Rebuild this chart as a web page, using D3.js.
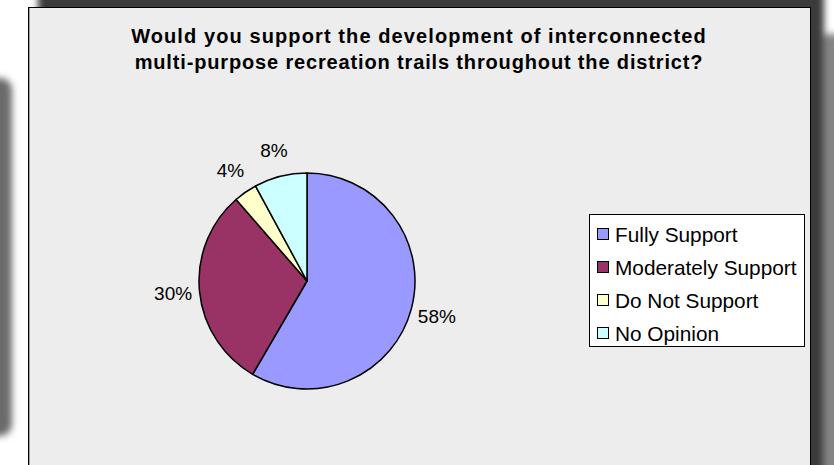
<!DOCTYPE html>
<html>
<head>
<meta charset="utf-8">
<script src="https://cdn.jsdelivr.net/npm/d3@7"></script>
<style>
  html, body { margin: 0; padding: 0; background: #ffffff; }
  svg { display: block; }
</style>
</head>
<body>
<svg id="chart" width="834" height="465"></svg>
<script>
// ---- data ----
const titleLines = [
  "Would you support the development of interconnected",
  "multi-purpose recreation trails throughout the district?"
];
const categories = ["Fully Support", "Moderately Support", "Do Not Support", "No Opinion"];
const values = [58.4, 30.2, 3.5, 7.9];
const valueLabels = ["58%", "30%", "4%", "8%"];
const colors = ["#9999FF", "#993366", "#FFFFCC", "#CCFFFF"];

// ---- layout ----
const W = 834, H = 465;
const svg = d3.select("#chart");
const defs = svg.append("defs");
defs.append("filter").attr("id", "blur").attr("x", "-50%").attr("y", "-50%").attr("width", "200%").attr("height", "200%")
  .append("feGaussianBlur").attr("stdDeviation", 3.5);

// page shadows
const sh = svg.append("g").attr("filter", "url(#blur)");
sh.append("rect").attr("x", 816).attr("y", 34).attr("width", 40).attr("height", 480).attr("fill", "#858585");
sh.append("rect").attr("x", 38).attr("y", -30).attr("width", 786).attr("height", 540).attr("rx", 14).attr("fill", "#3a3a3a");
sh.append("rect").attr("x", -60).attr("y", 78).attr("width", 72).attr("height", 358).attr("rx", 12).attr("fill", "#6a6a6a");

// chart frame
const frame = {x: 28, y: 7, w: 782, h: 480};
svg.append("rect").attr("x", frame.x + 0.5).attr("y", frame.y + 0.5)
  .attr("width", frame.w).attr("height", frame.h)
  .attr("fill", "#ededed").attr("stroke", "#000").attr("stroke-width", 1);
svg.append("line").attr("x1", frame.x + 1.5).attr("x2", frame.x + 1.5).attr("y1", frame.y + 1).attr("y2", H)
  .attr("stroke", "#a0a0a0").attr("stroke-width", 1);

// title
const cx = frame.x + frame.w / 2;
svg.append("g").selectAll("text").data(titleLines).join("text")
  .attr("x", cx)
  .attr("y", (d, i) => 43 + i * 26)
  .attr("text-anchor", "middle")
  .attr("font-family", "Liberation Sans, Arial, sans-serif")
  .attr("font-weight", "bold")
  .attr("font-size", 20)
  .attr("letter-spacing", (d, i) => i === 0 ? 1.1 : 0.85)
  .attr("fill", "#000")
  .text(d => d);

// pie
const pcx = 307, pcy = 281, r = 108;
const pie = d3.pie().sort(null).value(d => d.v);
const data = categories.map((c, i) => ({c, v: values[i], label: valueLabels[i], color: colors[i]}));
const arcs = pie(data);
const arc = d3.arc().innerRadius(0).outerRadius(r);
const g = svg.append("g").attr("transform", `translate(${pcx},${pcy})`);
g.selectAll("path").data(arcs).join("path")
  .attr("d", arc)
  .attr("fill", d => d.data.color)
  .attr("stroke", "#000")
  .attr("stroke-width", 1.5)
  .attr("stroke-linejoin", "round");

// labels: centred on the mid-angle ray outside the pie
const fs = 19;
const labelArc = d3.arc().innerRadius(r + 26.5).outerRadius(r + 26.5);
g.selectAll("text.lbl").data(arcs).join("text")
  .attr("class", "lbl")
  .attr("font-family", "Liberation Sans, Arial, sans-serif")
  .attr("font-size", fs)
  .attr("fill", "#000")
  .attr("text-anchor", "middle")
  .attr("x", d => labelArc.centroid(d)[0])
  .attr("y", d => labelArc.centroid(d)[1] + fs * 0.36)
  .text(d => d.data.label);

// legend
const lg = svg.append("g");
lg.append("rect").attr("x", 589.5).attr("y", 214.5).attr("width", 215).attr("height", 132)
  .attr("fill", "#fff").attr("stroke", "#000").attr("stroke-width", 1);
const rows = lg.selectAll("g.row").data(data).join("g")
  .attr("class", "row")
  .attr("transform", (d, i) => `translate(597, ${234 + i * 33})`);
rows.append("rect").attr("x", 0.5).attr("y", -5.5).attr("width", 11).attr("height", 11)
  .attr("fill", d => d.color).attr("stroke", "#000").attr("stroke-width", 1);
rows.append("text").attr("x", 18).attr("y", 7.5)
  .attr("font-family", "Liberation Sans, Arial, sans-serif")
  .attr("font-size", 20.8)
  .attr("fill", "#000")
  .text(d => d.c);
</script>
</body>
</html>
